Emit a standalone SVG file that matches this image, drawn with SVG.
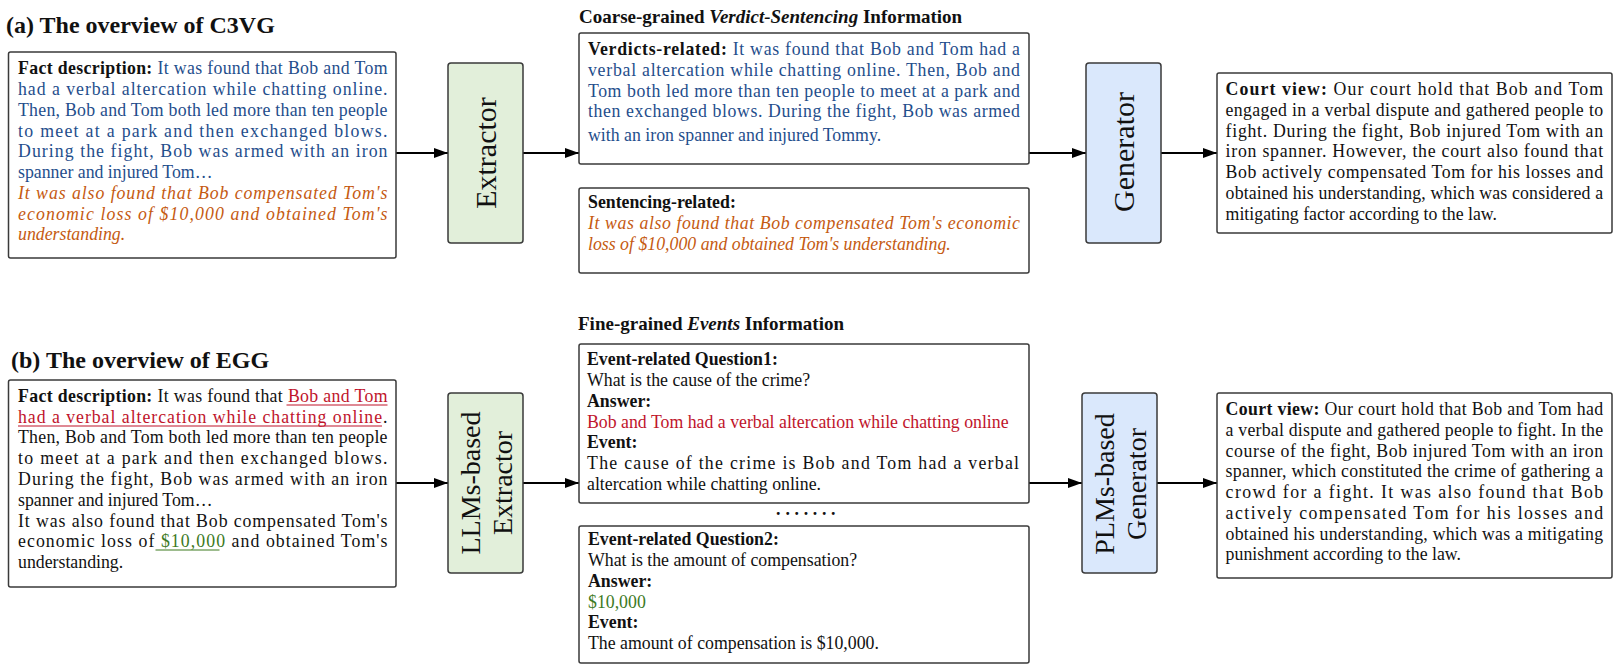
<svg xmlns="http://www.w3.org/2000/svg" width="1613" height="666" viewBox="0 0 1613 666">
<style>
text{font-family:"Liberation Serif","Times New Roman",serif;font-size:17.8px;fill:#111}
.b{font-weight:bold;fill:#111}
.blue{fill:#1f4e8c}
.or{fill:#c55a11;font-style:italic}
.red{fill:#c0142b}
.green{fill:#3d7a1f}
.title{font-size:24px;font-weight:bold}
.sub{font-size:19px;font-weight:bold}
.bi{font-style:italic}
.big{font-size:30px}
.mid{font-size:28px}
.box{fill:#fff;stroke:#3a3a3a;stroke-width:1.5}
.ext{fill:#e2efda;stroke:#3a3a3a;stroke-width:1.5}
.gen{fill:#dae8fc;stroke:#3a3a3a;stroke-width:1.5}
.arr{stroke:#000;stroke-width:2;fill:none;marker-end:url(#ah)}
.ul-red{stroke:#c0142b;stroke-width:1.1}
.ul-green{stroke:#3d7a1f;stroke-width:1.1}
</style>
<defs>
<marker id="ah" markerUnits="userSpaceOnUse" markerWidth="14" markerHeight="10" refX="14" refY="5" orient="auto">
<path d="M0,0 L14,5 L0,10 z" fill="#000"/>
</marker>
</defs>

<text class="title" x="6" y="33">(a) The overview of C3VG</text>
<text class="sub" x="579" y="23">Coarse-grained <tspan class="bi">Verdict-Sentencing</tspan> Information</text>
<text class="title" x="11" y="368">(b) The overview of EGG</text>
<text class="sub" x="578" y="330">Fine-grained <tspan class="bi">Events</tspan> Information</text>

<g id="connectors">
<line class="arr" x1="396" y1="153" x2="448" y2="153"/>
<line class="arr" x1="523" y1="153" x2="579" y2="153"/>
<line class="arr" x1="1029" y1="153" x2="1086" y2="153"/>
<line class="arr" x1="1161" y1="153" x2="1217" y2="153"/>
<line class="arr" x1="396" y1="483" x2="448" y2="483"/>
<line class="arr" x1="523" y1="483" x2="579" y2="483"/>
<line class="arr" x1="1029" y1="483" x2="1082" y2="483"/>
<line class="arr" x1="1157" y1="483" x2="1217" y2="483"/>
</g>

<g id="fact-a">
<rect class="box" x="8.5" y="52" width="387.5" height="206" rx="2"/>
<text x="18" y="74" textLength="369.5" lengthAdjust="spacing"><tspan class="b">Fact description:</tspan><tspan class="blue"> It was found that Bob and Tom</tspan></text>
<text class="blue" x="18" y="95" textLength="369.5" lengthAdjust="spacing">had a verbal altercation while chatting online.</text>
<text class="blue" x="18" y="116" textLength="369.5" lengthAdjust="spacing">Then, Bob and Tom both led more than ten people</text>
<text class="blue" x="18" y="137" textLength="369.5" lengthAdjust="spacing">to meet at a park and then exchanged blows.</text>
<text class="blue" x="18" y="157" textLength="369.5" lengthAdjust="spacing">During the fight, Bob was armed with an iron</text>
<text class="blue" x="18" y="178">spanner and injured Tom…</text>
<text class="or" x="18" y="199" textLength="369.5" lengthAdjust="spacing">It was also found that Bob compensated Tom's</text>
<text class="or" x="18" y="220" textLength="369.5" lengthAdjust="spacing">economic loss of $10,000 and obtained Tom's</text>
<text class="or" x="18" y="240">understanding.</text>
</g>

<g id="extractor-a">
<rect class="ext" x="448" y="63" width="75" height="180" rx="3"/>
<text class="big" transform="translate(495.5,153) rotate(-90)" text-anchor="middle">Extractor</text>
</g>

<g id="verdicts">
<rect class="box" x="579" y="33" width="450" height="131" rx="2"/>
<text x="588" y="55" textLength="432" lengthAdjust="spacing"><tspan class="b">Verdicts-related:</tspan><tspan class="blue"> It was found that Bob and Tom had a</tspan></text>
<text class="blue" x="588" y="76" textLength="432" lengthAdjust="spacing">verbal altercation while chatting online. Then, Bob and</text>
<text class="blue" x="588" y="97" textLength="432" lengthAdjust="spacing">Tom both led more than ten people to meet at a park and</text>
<text class="blue" x="588" y="117" textLength="432" lengthAdjust="spacing">then exchanged blows. During the fight, Bob was armed</text>
<text class="blue" x="588" y="141">with an iron spanner and injured Tommy.</text>
</g>

<g id="sentencing">
<rect class="box" x="579" y="188" width="450" height="85" rx="2"/>
<text class="b" x="588" y="208">Sentencing-related:</text>
<text class="or" x="588" y="229" textLength="432" lengthAdjust="spacing">It was also found that Bob compensated Tom's economic</text>
<text class="or" x="588" y="250">loss of $10,000 and obtained Tom's understanding.</text>
</g>

<g id="generator-a">
<rect class="gen" x="1086" y="63" width="75" height="180" rx="3"/>
<text class="big" transform="translate(1134,152) rotate(-90)" text-anchor="middle">Generator</text>
</g>

<g id="court-a">
<rect class="box" x="1217" y="73" width="395" height="160" rx="2"/>
<text x="1225.6" y="95" textLength="377.5" lengthAdjust="spacing"><tspan class="b">Court view:</tspan> Our court hold that Bob and Tom</text>
<text x="1225.6" y="116" textLength="377.5" lengthAdjust="spacing">engaged in a verbal dispute and gathered people to</text>
<text x="1225.6" y="137" textLength="377.5" lengthAdjust="spacing">fight. During the fight, Bob injured Tom with an</text>
<text x="1225.6" y="157" textLength="377.5" lengthAdjust="spacing">iron spanner. However, the court also found that</text>
<text x="1225.6" y="178" textLength="377.5" lengthAdjust="spacing">Bob actively compensated Tom for his losses and</text>
<text x="1225.6" y="199" textLength="377.5" lengthAdjust="spacing">obtained his understanding, which was considered a</text>
<text x="1225.6" y="220">mitigating factor according to the law.</text>
</g>

<g id="fact-b">
<rect class="box" x="8.5" y="380" width="387.5" height="207" rx="2"/>
<text x="18" y="402" textLength="369.5" lengthAdjust="spacing"><tspan class="b">Fact description:</tspan> It was found that <tspan class="red">Bob and Tom</tspan></text>
<text x="18" y="423" textLength="369.5" lengthAdjust="spacing"><tspan class="red">had a verbal altercation while chatting online</tspan>.</text>
<text x="18" y="443" textLength="369.5" lengthAdjust="spacing">Then, Bob and Tom both led more than ten people</text>
<text x="18" y="464" textLength="369.5" lengthAdjust="spacing">to meet at a park and then exchanged blows.</text>
<text x="18" y="485" textLength="369.5" lengthAdjust="spacing">During the fight, Bob was armed with an iron</text>
<text x="18" y="506">spanner and injured Tom…</text>
<text x="18" y="527" textLength="369.5" lengthAdjust="spacing">It was also found that Bob compensated Tom's</text>
<text x="18" y="547" textLength="369.5" lengthAdjust="spacing">economic loss of <tspan class="green">$10,000</tspan> and obtained Tom's</text>
<text x="18" y="568">understanding.</text>
<line class="ul-red" x1="286.5" y1="405" x2="387.5" y2="405"/>
<line class="ul-red" x1="18" y1="426" x2="382" y2="426"/>
<line class="ul-green" x1="155.5" y1="550" x2="219.5" y2="550"/>
</g>

<g id="extractor-b">
<rect class="ext" x="448" y="393" width="75" height="180" rx="3"/>
<text class="mid" transform="translate(480,483) rotate(-90)" text-anchor="middle">LLMs-based</text>
<text class="mid" transform="translate(512,483) rotate(-90)" text-anchor="middle">Extractor</text>
</g>

<g id="event1">
<rect class="box" x="579" y="344" width="450" height="159" rx="2"/>
<text class="b" x="587" y="365">Event-related Question1:</text>
<text x="587" y="386">What is the cause of the crime?</text>
<text class="b" x="587" y="407">Answer:</text>
<text class="red" x="587" y="428">Bob and Tom had a verbal altercation while chatting online</text>
<text class="b" x="587" y="448">Event:</text>
<text x="587" y="469" textLength="432" lengthAdjust="spacing">The cause of the crime is Bob and Tom had a verbal</text>
<text x="587" y="490">altercation while chatting online.</text>
</g>

<text class="b" font-size="18" y="515" x="776.1 785.5 794.5 803.8 812.8 822.1 831.1">.......</text>

<g id="event2">
<rect class="box" x="579" y="526" width="450" height="137" rx="2"/>
<text class="b" x="588" y="545">Event-related Question2:</text>
<text x="588" y="566">What is the amount of compensation?</text>
<text class="b" x="588" y="587">Answer:</text>
<text class="green" x="588" y="608">$10,000</text>
<text class="b" x="588" y="628">Event:</text>
<text x="588" y="649">The amount of compensation is $10,000.</text>
</g>

<g id="generator-b">
<rect class="gen" x="1082" y="393" width="75" height="180" rx="3"/>
<text class="mid" transform="translate(1113.5,484) rotate(-90)" text-anchor="middle">PLMs-based</text>
<text class="mid" transform="translate(1146,484) rotate(-90)" text-anchor="middle">Generator</text>
</g>

<g id="court-b">
<rect class="box" x="1217" y="393" width="395" height="185" rx="2"/>
<text x="1225.6" y="415" textLength="377.5" lengthAdjust="spacing"><tspan class="b">Court view:</tspan> Our court hold that Bob and Tom had</text>
<text x="1225.6" y="436" textLength="377.5" lengthAdjust="spacing">a verbal dispute and gathered people to fight. In the</text>
<text x="1225.6" y="457" textLength="377.5" lengthAdjust="spacing">course of the fight, Bob injured Tom with an iron</text>
<text x="1225.6" y="477" textLength="377.5" lengthAdjust="spacing">spanner, which constituted the crime of gathering a</text>
<text x="1225.6" y="498" textLength="377.5" lengthAdjust="spacing">crowd for a fight. It was also found that Bob</text>
<text x="1225.6" y="519" textLength="377.5" lengthAdjust="spacing">actively compensated Tom for his losses and</text>
<text x="1225.6" y="540" textLength="377.5" lengthAdjust="spacing">obtained his understanding, which was a mitigating</text>
<text x="1225.6" y="560">punishment according to the law.</text>
</g>
</svg>
